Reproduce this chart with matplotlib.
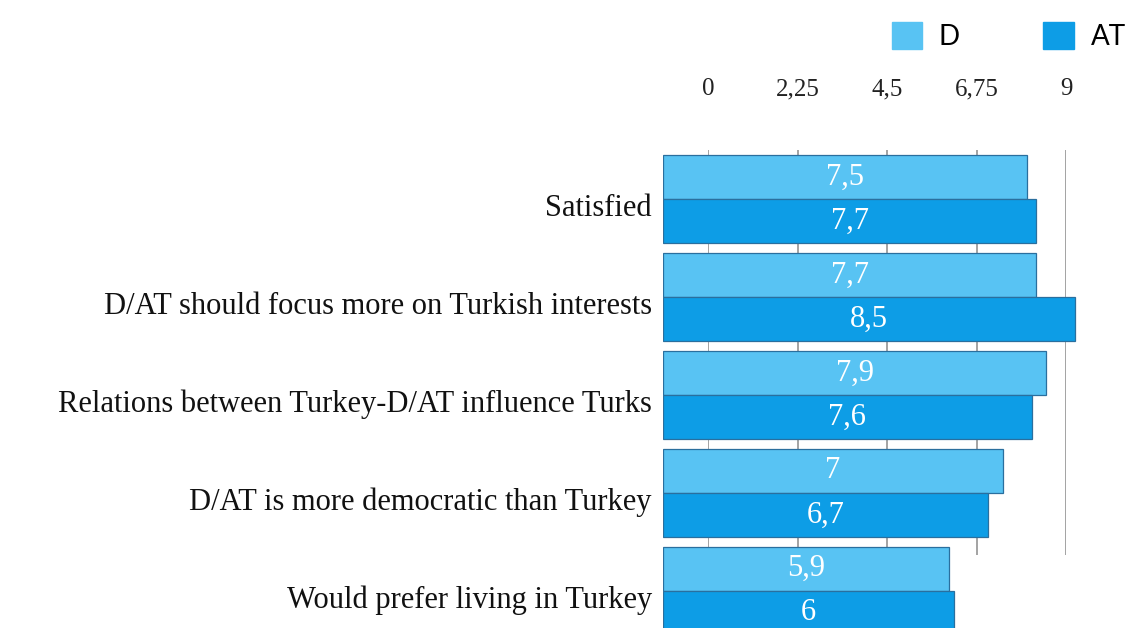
import matplotlib
matplotlib.use('Agg')
import matplotlib.pyplot as plt
import matplotlib.patches as mpatches
import numpy as np

# survey scores (0-10 scale), D vs AT
categories = [
    'Satisfied',
    'D/AT should focus more on Turkish interests',
    'Relations between Turkey-D/AT influence Turks',
    'D/AT is more democratic than Turkey',
    'Would prefer living in Turkey',
]
d_vals  = [7.5, 7.7, 7.9, 7.0, 5.9]
at_vals = [7.7, 8.5, 7.6, 6.7, 6.0]
ticks       = [0, 2.25, 4.5, 6.75, 9]
tick_labels = ['0', '2,25', '4,5', '6,75', '9']

C_D, C_AT = '#58c3f3', '#0d9de6'
EDGE      = '#2a6f9e'
SERIF     = 'Liberation Serif'

W, H = 1132, 628
fig = plt.figure(figsize=(W / 100, H / 100), dpi=100, facecolor='white')

# back wall: gridlines + scale on top
back = fig.add_axes([708 / W, (H - 555) / H, 358 / W, 405 / H])
back.set_xlim(0, 9)
back.set_ylim(0, 1)
back.set_xticks(ticks)
back.set_xticklabels(tick_labels, family=SERIF, fontsize=18, color='#222')
back.xaxis.tick_top()
back.tick_params(axis='x', length=0, pad=36)
back.set_yticks([])
back.grid(axis='x', color='#8a8a8a', lw=1.1)
for s in back.spines.values():
    s.set_visible(False)

# front: the bars
ax = fig.add_axes([663 / W, 0, 436.5 / W, 478 / H])
ax.set_facecolor('none')
ax.set_xlim(0, 9)
ax.set_ylim(4.38, -0.50)
y = np.arange(len(categories))
h = 0.45
bd = ax.barh(y - h / 2, d_vals, height=h, color=C_D, edgecolor=EDGE, lw=0.9)
ba = ax.barh(y + h / 2, at_vals, height=h, color=C_AT, edgecolor=EDGE, lw=0.9)

for bars, vals in ((bd, d_vals), (ba, at_vals)):
    for b, v in zip(bars, vals):
        lbl = f'{v:g}'.replace('.', ',')
        ax.text(v / 2, b.get_y() + b.get_height() / 2, lbl,
                ha='center', va='center', family=SERIF, fontsize=22,
                color='white')

ax.set_xticks([])
ax.set_yticks(y + 0.06)
ax.set_yticklabels(categories, family=SERIF, fontsize=22, color='#111')
ax.tick_params(axis='y', length=0, pad=8)
for s in ax.spines.values():
    s.set_visible(False)

handles = [mpatches.Patch(color=C_D, label='D'),
           mpatches.Patch(color=C_AT, label='AT')]
fig.legend(handles=handles, loc='upper right', bbox_to_anchor=(1.008, 0.989),
           ncol=2, frameon=False, prop={'family': 'Lato', 'size': 20},
           handlelength=1.1, handleheight=1.1, handletextpad=0.6,
           columnspacing=3.0, borderaxespad=0.15)

fig.savefig('out.png', dpi=100)
